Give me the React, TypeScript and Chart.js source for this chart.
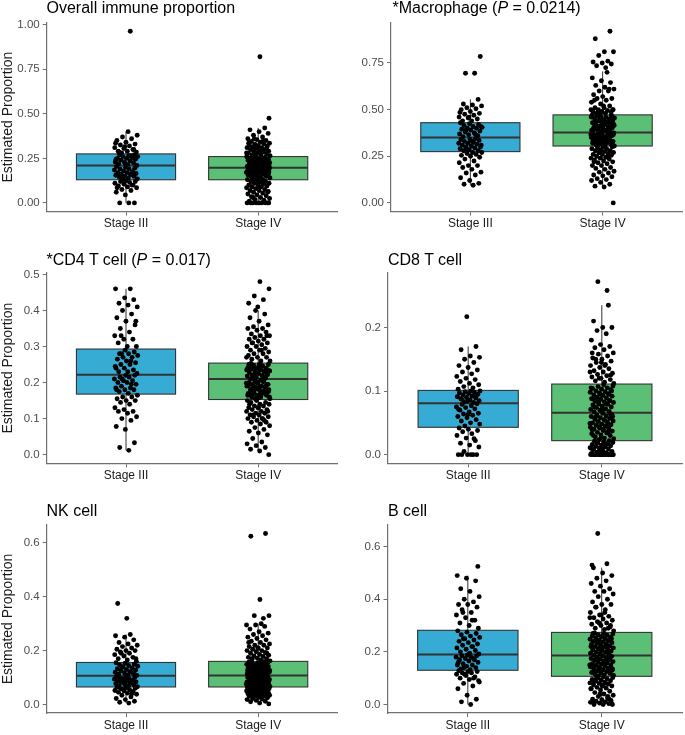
import React, { useEffect, useRef } from "react";
import { Chart, registerables } from "chart.js";

Chart.register(...registerables);

// ---------------- DATA ----------------
const stages = ["Stage III", "Stage IV"];
const yAxisTitle = "Estimated Proportion";

// [lower whisker, Q1, median, Q3, upper whisker]
const immuneBoxIII = [0, 0.13, 0.21, 0.275, 0.4];
const immuneBoxIV = [0, 0.13, 0.197, 0.26, 0.42];
const macrophageBoxIII = [0.095, 0.275, 0.35, 0.43, 0.555];
const macrophageBoxIV = [0.085, 0.305, 0.378, 0.472, 0.705];
const cd4BoxIII = [0.012, 0.168, 0.222, 0.293, 0.46];
const cd4BoxIV = [0.01, 0.153, 0.21, 0.254, 0.4];
const cd8BoxIII = [0, 0.043, 0.081, 0.101, 0.17];
const cd8BoxIV = [0, 0.022, 0.066, 0.111, 0.235];
const nkBoxIII = [0.005, 0.065, 0.107, 0.156, 0.26];
const nkBoxIV = [0, 0.065, 0.108, 0.16, 0.3];
const bBoxIII = [0, 0.13, 0.19, 0.282, 0.49];
const bBoxIV = [0, 0.107, 0.186, 0.274, 0.52];

const immuneTicks = [0, 0.25, 0.5, 0.75, 1.0];
const macrophageTicks = [0, 0.25, 0.5, 0.75];
const cd4Ticks = [0, 0.1, 0.2, 0.3, 0.4, 0.5];
const cd8Ticks = [0, 0.1, 0.2];
const nkTicks = [0, 0.2, 0.4, 0.6];
const bTicks = [0, 0.2, 0.4, 0.6];

const immuneStageIII = [
  0, 0, 0, 0.045, 0.06, 0.07, 0.075, 0.085, 0.09, 0.095, 0.1, 0.105, 0.11, 0.115, 0.12, 0.12, 0.125, 0.085, 0.1, 0.13,
  0.135, 0.14, 0.145, 0.15, 0.15, 0.155, 0.16, 0.16, 0.165, 0.17, 0.17, 0.175, 0.18, 0.185, 0.19, 0.19, 0.195, 0.2, 0.205, 0.16, 0.145,
  0.21, 0.215, 0.22, 0.225, 0.23, 0.23, 0.235, 0.24, 0.245, 0.25, 0.25, 0.255, 0.26, 0.26, 0.265, 0.27, 0.27, 0.22, 0.245, 0.265,
  0.28, 0.285, 0.29, 0.29, 0.3, 0.305, 0.31, 0.32, 0.325, 0.33, 0.34, 0.35, 0.36, 0.37, 0.38, 0.4, 0.285, 0.3, 0.315, 0.335,
  0.963,
];
const immuneStageIV = [
  0, 0, 0, 0, 0, 0, 0, 0, 0, 0, 0.01, 0.015, 0.02, 0.025, 0.03, 0.035, 0.04, 0.045, 0.05, 0.055, 0.06, 0.065, 0.07, 0.07,
  0.075, 0.08, 0.085, 0.09, 0.09, 0.095, 0.1, 0.1, 0.105, 0.11, 0.11, 0.115, 0.12, 0.12, 0.125, 0.13, 0.13, 0.03, 0.06, 0.08, 0.1, 0.12,
  0.135, 0.14, 0.14, 0.145, 0.15, 0.15, 0.155, 0.16, 0.16, 0.165, 0.165, 0.17, 0.17, 0.175, 0.175, 0.18, 0.18, 0.185, 0.185, 0.19,
  0.19, 0.195, 0.195, 0.14, 0.15, 0.16, 0.17, 0.18, 0.19, 0.135, 0.155, 0.175, 0.16, 0.185, 0.145, 0.17, 0.19, 0.15, 0.165, 0.18,
  0.195, 0.13, 0.16, 0.175, 0.19,
  0.2, 0.2, 0.205, 0.205, 0.21, 0.21, 0.215, 0.215, 0.22, 0.22, 0.225, 0.225, 0.23, 0.23, 0.235, 0.235, 0.24, 0.24, 0.245, 0.245,
  0.25, 0.25, 0.255, 0.255, 0.26, 0.2, 0.21, 0.22, 0.23, 0.24, 0.25, 0.26, 0.205, 0.215, 0.225, 0.235, 0.245, 0.255, 0.21, 0.22,
  0.23, 0.24, 0.25, 0.2, 0.26,
  0.265, 0.27, 0.27, 0.275, 0.28, 0.28, 0.285, 0.29, 0.29, 0.295, 0.3, 0.3, 0.305, 0.31, 0.31, 0.315, 0.32, 0.32, 0.325, 0.33,
  0.33, 0.335, 0.34, 0.345, 0.35, 0.355, 0.36, 0.37, 0.38, 0.39, 0.4, 0.41, 0.42, 0.27, 0.28, 0.29, 0.3, 0.31, 0.32, 0.335, 0.35,
  0.36, 0.475, 0.82,
];

const macrophageStageIII = [
  0.095, 0.1, 0.105, 0.12, 0.135, 0.15, 0.16, 0.165, 0.18, 0.19, 0.2, 0.2, 0.215, 0.225, 0.235, 0.245, 0.25, 0.255, 0.26, 0.265, 0.27, 0.27,
  0.28, 0.28, 0.285, 0.29, 0.295, 0.3, 0.3, 0.305, 0.31, 0.315, 0.32, 0.32, 0.325, 0.33, 0.335, 0.34, 0.34, 0.345, 0.29, 0.31, 0.33,
  0.355, 0.36, 0.365, 0.37, 0.375, 0.38, 0.385, 0.39, 0.395, 0.4, 0.4, 0.405, 0.41, 0.415, 0.42, 0.425, 0.43, 0.37, 0.39, 0.41,
  0.44, 0.44, 0.45, 0.455, 0.46, 0.47, 0.475, 0.48, 0.49, 0.5, 0.505, 0.51, 0.52, 0.525, 0.53, 0.555, 0.46, 0.485,
  0.695, 0.695, 0.785,
];
const macrophageStageIV = [
  0, 0.085, 0.09, 0.1, 0.11, 0.12, 0.125, 0.13, 0.14, 0.145, 0.15, 0.16, 0.165, 0.17, 0.18, 0.185, 0.19, 0.2, 0.2, 0.21, 0.215,
  0.22, 0.225, 0.23, 0.235, 0.24, 0.24, 0.245, 0.25, 0.255, 0.26, 0.26, 0.265, 0.27, 0.27, 0.275, 0.28, 0.28, 0.285, 0.29, 0.29,
  0.295, 0.3, 0.3, 0.22, 0.25, 0.27,
  0.305, 0.31, 0.31, 0.315, 0.32, 0.32, 0.325, 0.33, 0.33, 0.335, 0.34, 0.34, 0.345, 0.35, 0.35, 0.355, 0.36, 0.36, 0.365, 0.37,
  0.37, 0.375, 0.31, 0.32, 0.33, 0.34, 0.35, 0.36, 0.37, 0.315, 0.325, 0.335, 0.345, 0.355, 0.365, 0.32, 0.34, 0.36, 0.375, 0.33,
  0.35, 0.31, 0.365, 0.34, 0.355,
  0.38, 0.385, 0.39, 0.39, 0.395, 0.4, 0.4, 0.405, 0.41, 0.41, 0.415, 0.42, 0.42, 0.425, 0.43, 0.43, 0.435, 0.44, 0.44, 0.445,
  0.45, 0.45, 0.455, 0.46, 0.46, 0.465, 0.47, 0.38, 0.39, 0.4, 0.41, 0.42, 0.43, 0.44, 0.45, 0.46, 0.47, 0.385, 0.395, 0.405,
  0.415, 0.425, 0.435, 0.445, 0.455,
  0.48, 0.48, 0.485, 0.49, 0.49, 0.495, 0.5, 0.5, 0.51, 0.51, 0.52, 0.53, 0.54, 0.55, 0.56, 0.56, 0.57, 0.58, 0.6, 0.6, 0.61,
  0.62, 0.63, 0.645, 0.655, 0.67, 0.7, 0.49, 0.5, 0.52, 0.55, 0.61, 0.48, 0.5,
  0.725, 0.735, 0.745, 0.75, 0.755, 0.76, 0.79, 0.81, 0.81, 0.88, 0.92,
];

const cd4StageIII = [
  0.012, 0.02, 0.033, 0.07, 0.078, 0.095, 0.1, 0.105, 0.115, 0.12, 0.12, 0.125, 0.13, 0.14, 0.145, 0.15, 0.15, 0.155, 0.16, 0.16, 0.165,
  0.17, 0.175, 0.18, 0.18, 0.185, 0.185, 0.19, 0.195, 0.2, 0.2, 0.205, 0.205, 0.21, 0.215, 0.215, 0.22, 0.22, 0.18, 0.195, 0.21,
  0.225, 0.23, 0.23, 0.235, 0.24, 0.245, 0.25, 0.25, 0.255, 0.26, 0.265, 0.27, 0.27, 0.275, 0.28, 0.28, 0.285, 0.29, 0.24, 0.26, 0.28,
  0.3, 0.3, 0.31, 0.32, 0.32, 0.33, 0.34, 0.35, 0.36, 0.37, 0.38, 0.39, 0.4, 0.41, 0.415, 0.42, 0.43, 0.435, 0.46, 0.46, 0.33, 0.37,
];
const cd4StageIV = [
  0, 0.01, 0.015, 0.02, 0.025, 0.03, 0.035, 0.045, 0.055, 0.06, 0.065, 0.07, 0.075, 0.08, 0.085, 0.09, 0.09, 0.095, 0.1, 0.1,
  0.105, 0.105, 0.11, 0.11, 0.115, 0.115, 0.12, 0.12, 0.125, 0.125, 0.13, 0.13, 0.135, 0.135, 0.14, 0.14, 0.145, 0.145, 0.15,
  0.15, 0.1, 0.11, 0.12, 0.13, 0.14, 0.095,
  0.155, 0.155, 0.16, 0.16, 0.165, 0.165, 0.17, 0.17, 0.175, 0.175, 0.18, 0.18, 0.185, 0.185, 0.19, 0.19, 0.195, 0.195, 0.2, 0.2,
  0.205, 0.205, 0.16, 0.17, 0.18, 0.19, 0.2, 0.165, 0.175, 0.185, 0.195, 0.158, 0.168, 0.178, 0.188, 0.198, 0.208, 0.162, 0.172,
  0.182, 0.192, 0.202, 0.17, 0.18, 0.19,
  0.21, 0.212, 0.215, 0.218, 0.22, 0.22, 0.222, 0.225, 0.228, 0.23, 0.23, 0.232, 0.235, 0.238, 0.24, 0.24, 0.242, 0.245, 0.248,
  0.25, 0.25, 0.252, 0.215, 0.225, 0.235, 0.245, 0.22, 0.23, 0.24, 0.25, 0.213, 0.223, 0.233, 0.243, 0.253, 0.217, 0.227, 0.237,
  0.247, 0.219, 0.229, 0.239, 0.249, 0.231, 0.241,
  0.26, 0.26, 0.265, 0.27, 0.27, 0.275, 0.28, 0.28, 0.285, 0.29, 0.29, 0.295, 0.3, 0.3, 0.305, 0.31, 0.31, 0.315, 0.32, 0.32,
  0.325, 0.33, 0.33, 0.335, 0.34, 0.345, 0.35, 0.35, 0.355, 0.36, 0.37, 0.38, 0.39, 0.4, 0.27, 0.29, 0.31, 0.33,
  0.41, 0.42, 0.43, 0.44, 0.46, 0.48,
];

const cd8StageIII = [
  0, 0, 0, 0, 0, 0, 0.005, 0.012, 0.015, 0.018, 0.022, 0.026, 0.03, 0.033, 0.036, 0.038, 0.04, 0.042, 0.025,
  0.045, 0.048, 0.05, 0.053, 0.055, 0.058, 0.06, 0.062, 0.064, 0.065, 0.067, 0.07, 0.072, 0.074, 0.075, 0.077, 0.079, 0.08, 0.063, 0.071,
  0.082, 0.083, 0.085, 0.086, 0.088, 0.089, 0.09, 0.091, 0.092, 0.094, 0.095, 0.096, 0.097, 0.098, 0.099, 0.1, 0.1, 0.087, 0.093, 0.084,
  0.103, 0.105, 0.107, 0.11, 0.112, 0.115, 0.118, 0.12, 0.123, 0.127, 0.13, 0.133, 0.137, 0.14, 0.145, 0.15, 0.153, 0.155, 0.165, 0.17,
  0.217,
];
const cd8StageIV = [
  0, 0, 0, 0, 0, 0, 0, 0, 0, 0, 0, 0, 0, 0, 0, 0, 0, 0, 0.002, 0.003, 0.004, 0.005, 0.006, 0.008, 0.009, 0.01, 0.011, 0.012,
  0.013, 0.014, 0.015, 0.016, 0.017, 0.018, 0.019, 0.02, 0.021, 0.022, 0.005, 0.01, 0.015, 0.02, 0.003, 0.012, 0.008, 0.018,
  0.023, 0.025, 0.026, 0.028, 0.03, 0.031, 0.033, 0.034, 0.035, 0.037, 0.038, 0.04, 0.041, 0.042, 0.043, 0.045, 0.046, 0.047,
  0.048, 0.05, 0.051, 0.052, 0.053, 0.055, 0.056, 0.057, 0.058, 0.06, 0.061, 0.062, 0.063, 0.065, 0.03, 0.036, 0.044, 0.049,
  0.054, 0.059, 0.064, 0.027, 0.039, 0.045, 0.052, 0.06, 0.04,
  0.067, 0.068, 0.07, 0.071, 0.072, 0.074, 0.075, 0.076, 0.078, 0.079, 0.08, 0.082, 0.083, 0.084, 0.085, 0.087, 0.088, 0.089,
  0.09, 0.092, 0.093, 0.094, 0.095, 0.097, 0.098, 0.099, 0.1, 0.102, 0.103, 0.104, 0.105, 0.107, 0.108, 0.11, 0.075, 0.085,
  0.095, 0.105, 0.08, 0.09, 0.1, 0.07, 0.088, 0.096, 0.083,
  0.112, 0.114, 0.116, 0.118, 0.12, 0.122, 0.124, 0.126, 0.128, 0.13, 0.132, 0.135, 0.137, 0.14, 0.142, 0.145, 0.147, 0.15,
  0.152, 0.155, 0.158, 0.16, 0.165, 0.168, 0.17, 0.173, 0.18, 0.19, 0.195, 0.2, 0.2, 0.21, 0.235, 0.12, 0.13, 0.14, 0.15, 0.125,
  0.145, 0.16, 0.258, 0.272,
];

const nkStageIII = [
  0.005, 0.008, 0.012, 0.018, 0.022, 0.028, 0.034, 0.038, 0.042, 0.045, 0.048, 0.05, 0.052, 0.055, 0.057, 0.06, 0.062, 0.064, 0.04, 0.058,
  0.066, 0.068, 0.07, 0.072, 0.075, 0.077, 0.079, 0.082, 0.084, 0.086, 0.088, 0.09, 0.092, 0.094, 0.096, 0.098, 0.1, 0.102, 0.105, 0.08, 0.095,
  0.108, 0.11, 0.112, 0.115, 0.118, 0.12, 0.122, 0.125, 0.127, 0.13, 0.133, 0.136, 0.139, 0.142, 0.145, 0.148, 0.15, 0.153, 0.155, 0.12, 0.14,
  0.16, 0.165, 0.17, 0.175, 0.18, 0.185, 0.19, 0.195, 0.2, 0.2, 0.205, 0.21, 0.215, 0.22, 0.225, 0.23, 0.24, 0.25, 0.255, 0.26, 0.19, 0.17,
  0.32, 0.375,
];
const nkStageIV = [
  0.002, 0.005, 0.01, 0.012, 0.015, 0.018, 0.02, 0.022, 0.025, 0.027, 0.03, 0.03, 0.032, 0.034, 0.035, 0.036, 0.038, 0.04, 0.04,
  0.042, 0.043, 0.045, 0.045, 0.047, 0.048, 0.05, 0.05, 0.051, 0.052, 0.053, 0.055, 0.055, 0.056, 0.057, 0.058, 0.059, 0.06, 0.06,
  0.061, 0.062, 0.063, 0.064, 0.03, 0.04, 0.05, 0.035,
  0.066, 0.067, 0.068, 0.07, 0.071, 0.072, 0.073, 0.075, 0.076, 0.077, 0.078, 0.08, 0.081, 0.082, 0.083, 0.085, 0.086, 0.087,
  0.088, 0.09, 0.091, 0.092, 0.093, 0.095, 0.096, 0.097, 0.098, 0.1, 0.101, 0.102, 0.103, 0.105, 0.106, 0.107, 0.07, 0.075, 0.08,
  0.085, 0.09, 0.095, 0.1, 0.105, 0.078, 0.088, 0.098,
  0.109, 0.11, 0.112, 0.113, 0.115, 0.116, 0.118, 0.12, 0.121, 0.123, 0.125, 0.126, 0.128, 0.13, 0.132, 0.134, 0.135, 0.137,
  0.139, 0.14, 0.142, 0.144, 0.145, 0.147, 0.149, 0.15, 0.152, 0.154, 0.155, 0.157, 0.159, 0.11, 0.12, 0.13, 0.14, 0.15, 0.115,
  0.125, 0.135, 0.145, 0.155, 0.118, 0.128, 0.138, 0.148,
  0.162, 0.165, 0.168, 0.17, 0.172, 0.175, 0.178, 0.18, 0.183, 0.186, 0.19, 0.193, 0.196, 0.2, 0.2, 0.205, 0.21, 0.21, 0.215,
  0.22, 0.22, 0.225, 0.23, 0.235, 0.24, 0.245, 0.25, 0.255, 0.26, 0.265, 0.27, 0.28, 0.29, 0.295, 0.295, 0.3, 0.17, 0.19, 0.21,
  0.23, 0.32, 0.33, 0.33, 0.39, 0.625, 0.635,
];

const bStageIII = [
  0, 0.01, 0.02, 0.035, 0.06, 0.07, 0.08, 0.09, 0.095, 0.1, 0.105, 0.11, 0.115, 0.12, 0.12, 0.125, 0.125, 0.128, 0.1, 0.115, 0.085,
  0.132, 0.135, 0.14, 0.145, 0.15, 0.15, 0.155, 0.16, 0.165, 0.17, 0.17, 0.175, 0.18, 0.18, 0.185, 0.185, 0.188, 0.16, 0.175, 0.14,
  0.192, 0.195, 0.2, 0.205, 0.21, 0.215, 0.22, 0.225, 0.23, 0.235, 0.24, 0.245, 0.25, 0.255, 0.26, 0.265, 0.27, 0.275, 0.28, 0.22, 0.25,
  0.29, 0.3, 0.31, 0.32, 0.33, 0.34, 0.35, 0.36, 0.37, 0.38, 0.38, 0.39, 0.4, 0.41, 0.43, 0.44, 0.47, 0.48, 0.49, 0.32, 0.35, 0.525,
];
const bStageIV = [
  0, 0, 0, 0.003, 0.005, 0.008, 0.01, 0.012, 0.015, 0.018, 0.02, 0.025, 0.03, 0.035, 0.04, 0.045, 0.05, 0.055, 0.06, 0.062,
  0.065, 0.07, 0.072, 0.075, 0.078, 0.08, 0.082, 0.085, 0.088, 0.09, 0.092, 0.095, 0.098, 0.1, 0.102, 0.105, 0.01, 0.02, 0.04,
  0.06, 0.08, 0.1, 0.005, 0.07, 0.09, 0.03,
  0.108, 0.11, 0.112, 0.115, 0.118, 0.12, 0.122, 0.125, 0.128, 0.13, 0.132, 0.135, 0.138, 0.14, 0.143, 0.145, 0.148, 0.15, 0.153,
  0.155, 0.158, 0.16, 0.163, 0.165, 0.168, 0.17, 0.173, 0.175, 0.178, 0.18, 0.183, 0.185, 0.12, 0.13, 0.14, 0.15, 0.16, 0.17,
  0.18, 0.125, 0.145, 0.165, 0.175, 0.135, 0.155,
  0.188, 0.19, 0.193, 0.195, 0.198, 0.2, 0.203, 0.205, 0.208, 0.21, 0.213, 0.215, 0.218, 0.22, 0.223, 0.225, 0.228, 0.23, 0.233,
  0.235, 0.238, 0.24, 0.243, 0.245, 0.248, 0.25, 0.253, 0.255, 0.258, 0.26, 0.263, 0.265, 0.268, 0.27, 0.272, 0.2, 0.21, 0.22,
  0.23, 0.24, 0.25, 0.26, 0.27, 0.215, 0.235,
  0.28, 0.285, 0.29, 0.295, 0.3, 0.305, 0.31, 0.315, 0.32, 0.325, 0.33, 0.335, 0.34, 0.35, 0.36, 0.37, 0.38, 0.38, 0.39, 0.4,
  0.41, 0.42, 0.43, 0.43, 0.44, 0.45, 0.46, 0.47, 0.48, 0.49, 0.5, 0.52, 0.29, 0.31, 0.33, 0.35, 0.37, 0.3, 0.34, 0.53, 0.535, 0.65,
];

// ---------------- STYLE / LAYOUT ----------------
const FONT = '"Liberation Sans", Arial, Helvetica, sans-serif';
const BOX_FILL = ["#36ABD3", "#5BBF75"];
const AXIS_COLOR = "#707070";
const BOX_LINE = "#333333";

type Panel = {
  title: React.ReactNode;
  groups: number[][];
  boxes: number[][];
  ticks: number[];
  decimals: number;
  yTitle: boolean;
  cx: number; cy: number; cw: number; ch: number;
  L: number; R: number; T: number; B: number;
  titleX: number; titleTop: number;
};

const COLS = [
  { cx: 0, cw: 340, R: 337.5 },
  { cx: 340, cw: 345, R: 682 },
];
const ROWS = [
  { cy: 0, ch: 245, T: 22.7, B: 211.5, titleTop: 0 },
  { cy: 245, ch: 245, T: 273, B: 463.3, titleTop: 252 },
  { cy: 490, ch: 245, T: 525, B: 713, titleTop: 503 },
];

const panels: Panel[] = [
  { title: "Overall immune proportion", groups: [immuneStageIII, immuneStageIV], boxes: [immuneBoxIII, immuneBoxIV], ticks: immuneTicks, decimals: 2, yTitle: true, ...COLS[0], ...ROWS[0], L: 46.7, titleX: 46.5 },
  { title: <>*Macrophage (<i>P</i> = 0.0214)</>, groups: [macrophageStageIII, macrophageStageIV], boxes: [macrophageBoxIII, macrophageBoxIV], ticks: macrophageTicks, decimals: 2, yTitle: false, ...COLS[1], ...ROWS[0], L: 391, titleX: 392.5 },
  { title: <>*CD4 T cell (<i>P</i> = 0.017)</>, groups: [cd4StageIII, cd4StageIV], boxes: [cd4BoxIII, cd4BoxIV], ticks: cd4Ticks, decimals: 1, yTitle: true, ...COLS[0], ...ROWS[1], L: 46.7, titleX: 46.5 },
  { title: "CD8 T cell", groups: [cd8StageIII, cd8StageIV], boxes: [cd8BoxIII, cd8BoxIV], ticks: cd8Ticks, decimals: 1, yTitle: false, ...COLS[1], ...ROWS[1], L: 388, titleX: 388 },
  { title: "NK cell", groups: [nkStageIII, nkStageIV], boxes: [nkBoxIII, nkBoxIV], ticks: nkTicks, decimals: 1, yTitle: true, ...COLS[0], ...ROWS[2], L: 46.7, titleX: 46.5 },
  { title: "B cell", groups: [bStageIII, bStageIV], boxes: [bBoxIII, bBoxIV], ticks: bTicks, decimals: 1, yTitle: false, ...COLS[1], ...ROWS[2], L: 387.5, titleX: 388 },
];

// horizontal jitter (layout only, ±0.09 category units)
const jitter = (i: number) => ((((i + 1) * 0.6180339887) % 1) - 0.5) * 0.18;

function BoxPanel({ p }: { p: Panel }) {
  const ref = useRef<HTMLCanvasElement>(null);
  useEffect(() => {
    if (!ref.current) return;
    const all = p.groups.flat();
    const hi = Math.max(...all);
    const lo = Math.min(0, ...all);
    const span = hi - lo;
    const yMin = lo - 0.05 * span;
    const yMax = hi + 0.05 * span;

    const boxPlugin = {
      id: "boxplots",
      beforeDatasetsDraw(chart: any) {
        const { ctx, scales } = chart;
        const xs = scales.x;
        const ys = scales.y;
        ctx.save();
        p.boxes.forEach((s, i) => {
          const [wLo, q1, med, q3, wHi] = s;
          const c = i + 1;
          const x0 = xs.getPixelForValue(c - 0.375);
          const x1 = xs.getPixelForValue(c + 0.375);
          const xm = xs.getPixelForValue(c);
          ctx.strokeStyle = BOX_LINE;
          ctx.lineWidth = 1;
          ctx.beginPath();
          ctx.moveTo(xm, ys.getPixelForValue(wHi));
          ctx.lineTo(xm, ys.getPixelForValue(q3));
          ctx.moveTo(xm, ys.getPixelForValue(q1));
          ctx.lineTo(xm, ys.getPixelForValue(wLo));
          ctx.stroke();
          const yTop = ys.getPixelForValue(q3);
          const yBot = ys.getPixelForValue(q1);
          ctx.fillStyle = BOX_FILL[i];
          ctx.fillRect(x0, yTop, x1 - x0, yBot - yTop);
          ctx.lineWidth = 1.1;
          ctx.strokeRect(x0, yTop, x1 - x0, yBot - yTop);
          ctx.lineWidth = 2;
          ctx.beginPath();
          const ym = ys.getPixelForValue(med);
          ctx.moveTo(x0, ym);
          ctx.lineTo(x1, ym);
          ctx.stroke();
        });
        ctx.restore();
      },
    };

    const gridOpts = {
      display: true,
      drawOnChartArea: false,
      drawTicks: true,
      tickLength: 4,
      tickColor: AXIS_COLOR,
      tickWidth: 1,
    };
    const borderOpts = { display: true, color: AXIS_COLOR, width: 1.2 };

    const chart = new Chart(ref.current, {
      type: "scatter",
      data: {
        datasets: p.groups.map((vals, gi) => ({
          label: stages[gi],
          data: vals.map((v, i) => ({ x: gi + 1 + jitter(i + gi * 7), y: v })),
          backgroundColor: "#000000",
          borderWidth: 0,
          pointRadius: 2.45,
          pointHoverRadius: 2.45,
        })),
      },
      options: {
        responsive: false,
        animation: false,
        devicePixelRatio: 1,
        events: [],
        layout: {
          padding: { top: p.T - p.cy, right: p.cx + p.cw - p.R, left: 0, bottom: 0 },
        },
        plugins: {
          legend: { display: false },
          tooltip: { enabled: false },
          title: { display: false },
        },
        scales: {
          x: {
            type: "linear",
            min: 0.4,
            max: 2.6,
            afterBuildTicks: (s: any) => {
              s.ticks = [{ value: 1 }, { value: 2 }];
            },
            afterFit: (s: any) => {
              s.height = p.cy + p.ch - p.B;
            },
            ticks: {
              callback: (v: any) => stages[Math.round(Number(v)) - 1] ?? "",
              color: "#1a1a1a",
              font: { family: FONT, size: 12 },
              padding: 1,
              autoSkip: false,
              maxRotation: 0,
            },
            grid: gridOpts,
            border: borderOpts,
          },
          y: {
            type: "linear",
            min: yMin,
            max: yMax,
            afterBuildTicks: (s: any) => {
              s.ticks = p.ticks.map((v) => ({ value: v }));
            },
            afterFit: (s: any) => {
              s.width = p.L - p.cx;
            },
            ticks: {
              callback: (v: any) => Number(v).toFixed(p.decimals),
              color: "#4d4d4d",
              font: { family: FONT, size: 11.5 },
              padding: 3,
            },
            grid: gridOpts,
            border: borderOpts,
            title: {
              display: p.yTitle,
              text: yAxisTitle,
              color: "#1a1a1a",
              font: { family: FONT, size: 14 },
              padding: 0,
            },
          },
        },
      },
      plugins: [boxPlugin],
    } as any);
    return () => chart.destroy();
  }, [p]);

  return (
    <>
      <canvas
        ref={ref}
        width={p.cw}
        height={p.ch}
        style={{ position: "absolute", left: p.cx, top: p.cy, width: p.cw, height: p.ch }}
      />
      <div
        style={{
          position: "absolute",
          left: p.titleX,
          top: p.titleTop,
          fontFamily: FONT,
          fontSize: 16,
          lineHeight: "16px",
          color: "#000",
          whiteSpace: "nowrap",
        }}
      >
        {p.title}
      </div>
    </>
  );
}

export default function App() {
  useEffect(() => {
    document.body.style.margin = "0";
  }, []);
  return (
    <div style={{ position: "relative", width: 685, height: 735, background: "#fff", overflow: "hidden" }}>
      {panels.map((p, i) => (
        <BoxPanel key={i} p={p} />
      ))}
    </div>
  );
}
